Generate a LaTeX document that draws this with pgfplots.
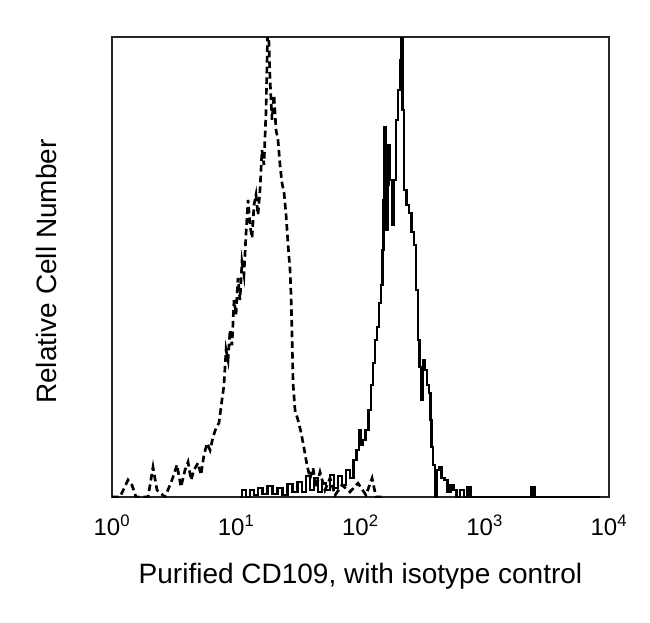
\documentclass[border=0pt]{standalone}
\usepackage{pgfplots}
\pgfplotsset{compat=1.18}
\usepackage{fontspec}
\setmainfont{Liberation Sans}

% x is log10 of fluorescence intensity (axis 10^0 .. 10^4), y relative count
\pgfplotstableread{
e y
0.000 0
0.064 0
0.129 3.7
0.161 2.6
0.193 0
0.290 0
0.330 6.5
0.362 1.5
0.427 0
0.483 3.7
0.523 7.0
0.555 2.2
0.588 5.9
0.612 7.6
0.636 3.7
0.660 5.9
0.692 7.4
0.716 4.8
0.740 9.1
0.765 11.7
0.789 10.2
0.813 13.0
0.837 15.0
0.861 16.1
0.885 21.1
0.901 24.3
0.918 32.0
0.934 29.8
0.950 36.3
0.966 33.0
0.982 42.8
0.998 39.6
1.014 47.6
1.030 42.8
1.046 51.1
1.062 48.3
1.078 57.0
1.095 64.6
1.111 59.1
1.127 56.3
1.143 63.5
1.159 65.7
1.175 61.3
1.191 66.7
1.207 75.4
1.223 72.2
1.239 83.5
1.256 105
1.272 90.7
1.288 82.0
1.304 87.4
1.320 79.8
1.336 77.6
1.352 72.2
1.368 68.3
1.385 66.1
1.401 61.3
1.417 54.8
1.433 49.3
1.441 43.9
1.449 34.8
1.457 24.8
1.473 18.9
1.497 16.7
1.521 14.1
1.545 10.7
1.569 7.0
1.594 4.1
1.618 6.3
1.642 2.0
1.674 5.4
1.714 1.5
1.755 4.1
1.795 0.4
1.851 2.6
1.915 1.1
1.980 3.0
2.044 0.4
2.093 4.1
2.125 0
2.200 0
}\isotype

\pgfplotstableread{
e y
1.030 0
1.062 1.5
1.095 0
1.127 1.5
1.159 0.4
1.191 2.0
1.231 0.7
1.272 2.4
1.312 0.7
1.352 2.0
1.392 0.4
1.433 2.8
1.473 1.1
1.513 3.3
1.545 1.1
1.577 4.6
1.610 1.5
1.642 4.1
1.674 1.1
1.706 3.0
1.738 1.5
1.771 4.8
1.803 2.0
1.835 4.6
1.867 2.6
1.899 5.9
1.932 4.1
1.956 8.0
1.980 10.2
1.996 14.6
2.012 11.3
2.028 12.4
2.052 14.6
2.076 18.9
2.093 24.3
2.109 29.1
2.125 34.1
2.141 37.0
2.157 42.2
2.173 46.1
2.181 53.7
2.189 64.6
2.197 80.4
2.205 69.1
2.213 58.0
2.222 67.8
2.230 76.5
2.246 68.9
2.262 59.1
2.278 68.9
2.294 82.0
2.310 88.5
2.326 95.0
2.334 105
2.342 84.1
2.358 66.7
2.382 63.5
2.398 61.7
2.423 57.6
2.439 54.8
2.455 45.0
2.471 34.1
2.479 28.3
2.495 21.1
2.511 29.8
2.527 27.6
2.543 24.3
2.559 22.6
2.567 16.7
2.575 10.9
2.591 7.0
2.607 0
2.624 5.9
2.640 6.5
2.664 4.1
2.688 3.7
2.712 1.1
2.736 2.6
2.760 1.5
2.785 0
2.817 1.5
2.849 0
2.873 2.2
2.897 0
3.364 0
3.388 2.2
3.413 0
3.930 0
}\cdonenine

\begin{document}
\begin{tikzpicture}
\useasboundingbox (-67.2pt,-75pt) rectangle (322.8pt,298.2pt);
\begin{axis}[
  at={(0,0)}, anchor=south west,
  scale only axis,
  width=298.2pt, height=276pt,
  xmin=0, xmax=4, ymin=0, ymax=100,
  axis line style={line width=1.5pt, black!85},
  xtick={0,1,2,3,4},
  xticklabels={10\textsuperscript{0},10\textsuperscript{1},10\textsuperscript{2},10\textsuperscript{3},10\textsuperscript{4}},
  ytick=\empty,
  major tick length=0pt,
  /pgf/number format/assume math mode=true,
  xticklabel style={font=\fontsize{14.4}{17}\selectfont, anchor=base, yshift=-22.8pt, inner sep=0pt},
  xlabel={Purified CD109, with isotype control},
  ylabel={Relative Cell Number},
  label style={font=\fontsize{16.8}{20}\selectfont},
  xlabel style={at={(axis description cs:0.5,-0.187)}, anchor=base},
  ylabel style={at={(axis description cs:-0.1107,0.49)}, anchor=base},
  clip=true,
]
\addplot[black, line width=1.6pt, dash pattern=on 4pt off 2.4pt] table[x=e, y=y] {\isotype};
\addplot[black, line width=1.4pt, const plot mark mid] table[x=e, y=y] {\cdonenine};
\end{axis}
\end{tikzpicture}
\end{document}
